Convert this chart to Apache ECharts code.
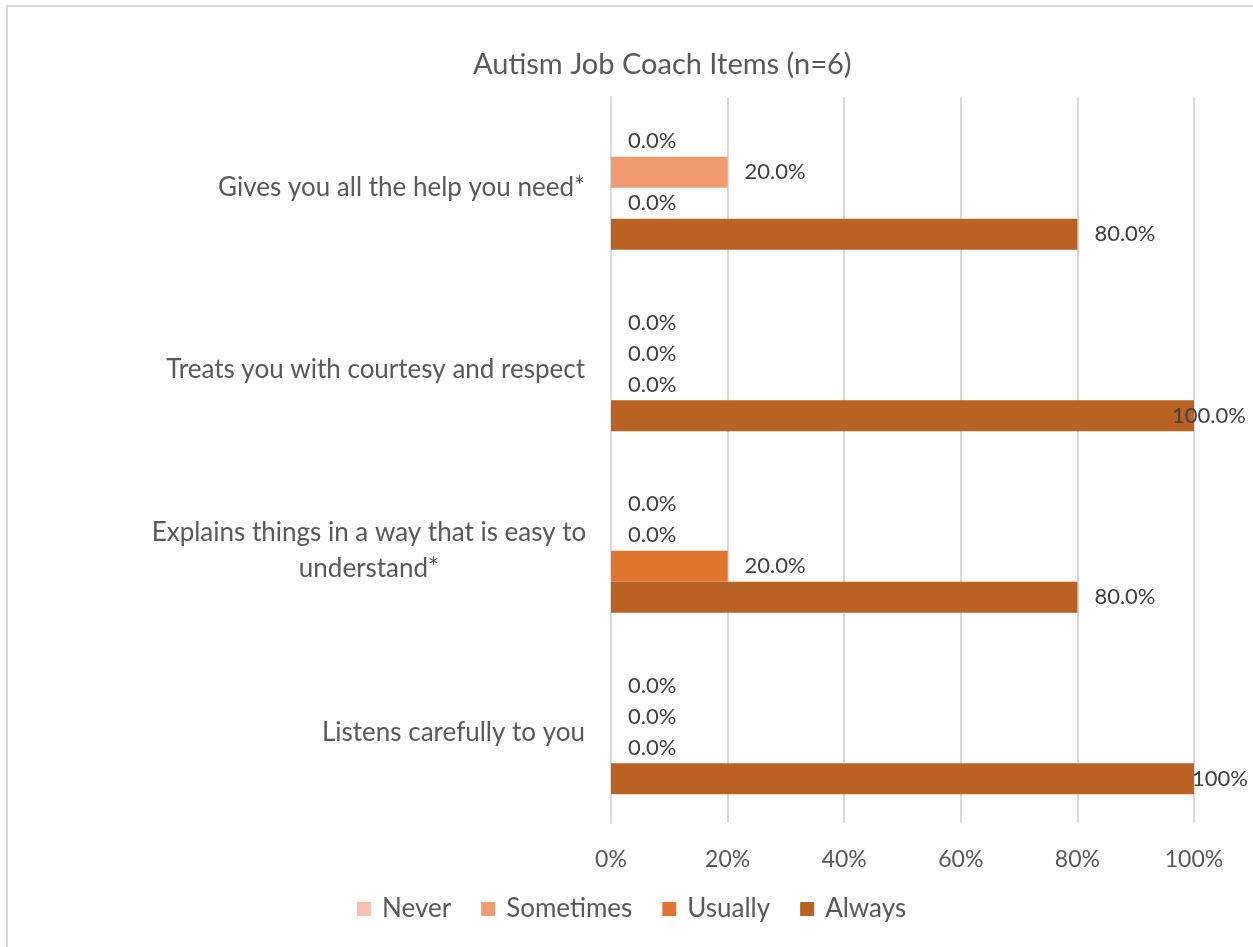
<!DOCTYPE html>
<html>
<head>
<meta charset="utf-8">
<style>
  html, body { margin: 0; padding: 0; background: #ffffff; }
  #chart { width: 1253px; height: 947px; }
</style>
<script src="https://cdn.jsdelivr.net/npm/echarts@6/dist/echarts.min.js"></script>
</head>
<body>
<div id="chart"></div>
<script>
// Survey items, listed bottom to top as the category axis draws them
const categories = [
  'Listens carefully to you',
  'Explains things in a way that is easy to\nunderstand*',
  'Treats you with courtesy and respect',
  'Gives you all the help you need*'
];
const seriesNames = ['Never', 'Sometimes', 'Usually', 'Always'];
const neverValues = [0, 0, 0, 0];
const sometimesValues = [0, 0, 0, 20];
const usuallyValues = [0, 20, 0, 0];
const alwaysValues = [100, 80, 100, 80];
// decimals shown in each "Always" data label
const alwaysDecimals = [0, 1, 1, 1];
const xTicks = [0, 20, 40, 60, 80, 100];

const colors = ['#F5C2AE', '#F09A70', '#DF752E', '#BA6124'];
const FONT = 'Lato';

const chart = echarts.init(document.getElementById('chart'), null, { renderer: 'canvas' });

function labelFor(decimals) {
  return function (p) {
    const d = decimals ? decimals[p.dataIndex] : 1;
    return p.value.toFixed(d) + '%';
  };
}

function makeSeries(name, values, color, decimals) {
  return {
    name: name,
    type: 'bar',
    barGap: '0%',
    barCategoryGap: '31.7%',
    itemStyle: { color: color },
    data: values.map(function (v) { return { value: v }; }),
    label: {
      show: true,
      position: 'right',
      distance: 17,
      color: '#404040',
      fontFamily: FONT,
      fontSize: 22,
      formatter: labelFor(decimals)
    }
  };
}

const series = [
  makeSeries('Never', neverValues, colors[0]),
  makeSeries('Sometimes', sometimesValues, colors[1]),
  makeSeries('Usually', usuallyValues, colors[2]),
  makeSeries('Always', alwaysValues, colors[3], alwaysDecimals)
];
// labels at the 100% edge are pulled in so they stay on the canvas
series[3].data[0].label = { offset: [-19, 0] };
series[3].data[2].label = { offset: [-39, 0] };

chart.setOption({
  backgroundColor: '#ffffff',
  animation: false,
  color: colors,
  title: {
    text: 'Autism Job Coach Items (n=6)',
    left: 468,
    top: 45,
    textStyle: { color: '#595959', fontFamily: FONT, fontSize: 29, fontWeight: 'normal' }
  },
  legend: {
    data: seriesNames,
    top: 891,
    left: 352,
    itemWidth: 14,
    itemHeight: 14,
    itemGap: 30,
    icon: 'rect',
    textStyle: { color: '#595959', fontFamily: FONT, fontSize: 26, padding: [0, 0, 0, 6] }
  },
  grid: { left: 611, right: 59, top: 97, bottom: 124, containLabel: false },
  xAxis: {
    type: 'value',
    min: xTicks[0],
    max: xTicks[xTicks.length - 1],
    interval: 20,
    axisLine: { show: false },
    axisTick: { show: false },
    splitLine: { lineStyle: { color: '#D9D9D9', width: 2 } },
    axisLabel: {
      color: '#595959', fontFamily: FONT, fontSize: 23, margin: 25,
      formatter: function (v) { return v + '%'; }
    }
  },
  yAxis: {
    type: 'category',
    data: categories.map(function (c) {
      if (c.indexOf('\n') >= 0) {
        return { value: c, textStyle: { align: 'center', padding: [0, 432, 0, 0], lineHeight: 36 } };
      }
      return c;
    }),
    axisLine: { show: true, lineStyle: { color: '#D9D9D9', width: 2 } },
    axisTick: { show: false },
    axisLabel: { color: '#595959', fontFamily: FONT, fontSize: 26, margin: 26 }
  },
  graphic: [{
    type: 'rect',
    shape: { x: 7, y: 6, width: 1300, height: 1000 },
    style: { fill: null, stroke: '#D9D9D9', lineWidth: 2 },
    silent: true
  }],
  series: series
});
</script>
</body>
</html>
